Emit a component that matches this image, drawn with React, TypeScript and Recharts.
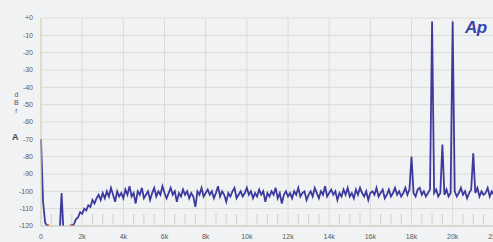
import React from "react"
import {
  LineChart,
  Line,
  XAxis,
  YAxis,
  CartesianGrid,
  ReferenceLine,
} from "recharts"

// FFT spectrum, 100 Hz bins from 0 Hz, level in dBrA
const levels = [
  -70, -106, -118, -120, -121, -124, -125, -126, -126, -125,
  -101, -125, -126, -124, -121, -120, -119, -116, -115, -112,
  -113, -110, -111, -108, -109, -105, -107, -104, -102, -105,
  -101,
  -104, -100, -103, -98, -102, -106, -100, -103, -101, -104,
  -99, -102, -97, -103, -101, -107, -100, -102, -98, -104,
  -102, -100, -105, -101, -98, -103, -100, -102, -97, -101,
  -104, -101, -98, -102, -100, -106, -101, -103, -99, -102,
  -100, -104, -101, -103, -109, -100, -102, -98, -103, -101,
  -99, -102, -100, -104, -101, -97, -103, -100, -102, -106,
  -101, -103, -100, -98, -104, -102, -100, -103, -101, -98,
  -102, -100, -104, -101, -103, -99, -102, -100, -106, -101,
  -103, -100, -102, -98, -104, -101, -107, -102, -100, -103,
  -101, -104, -100, -102, -98, -103, -101, -100, -105, -102,
  -100, -103, -98, -101, -104, -100, -102, -97, -103, -101,
  -99, -102, -100, -105, -101, -103, -99, -102, -98, -103,
  -101, -104, -99, -102, -98, -101, -103, -100, -105, -101,
  -100, -102, -98, -103, -101, -99, -104, -102, -99, -103,
  -101, -98, -102, -100, -103, -101, -98, -102, -99,
  -80,
  -101, -103, -99, -98, -102, -100, -103, -101, -99,
  -2,
  -101, -99, -103, -101,
  -73,
  -102, -99, -103, -101,
  -2,
  -100, -103, -101, -98, -102, -100, -104, -101, -99,
  -78,
  -101, -98, -103, -100, -102, -101, -98, -103, -100, -102, -101, -99,
]

// second channel, only visible where it sits on the bottom line
const orangeBins: Record<number, number> = { 3: -119.5, 4: -119.5, 14: -119.5, 15: -119.5 }

const xTicks = [0, 2000, 4000, 6000, 8000, 10000, 12000, 14000, 16000, 18000, 20000, 22000]
const yTicks = [-120, -110, -100, -90, -80, -70, -60, -50, -40, -30, -20, -10, 0]

const data = levels.map((v, i) => ({
  f: i * 100,
  a: v,
  b: orangeBins[i] ?? null,
}))

const minorTicks: number[] = []
for (let f = 500; f < 24000; f += 500) if (f % 2000 !== 0) minorTicks.push(f)

const tickStyle = { fontSize: 7, fill: "#5a5a5a", fontFamily: "Liberation Sans, Arial, sans-serif" }

export default function App() {
  return (
    <div
      style={{
        position: "absolute",
        left: 0,
        top: 0,
        width: 493,
        height: 242,
        overflow: "hidden",
        background: "#f1f2f4",
      }}
    >
      <LineChart width={540} height={242} data={data} margin={{ top: 18, right: 5, bottom: 0, left: 0 }}>
        <CartesianGrid stroke="#dcdcd2" strokeWidth={1} />
        <XAxis
          dataKey="f"
          type="number"
          domain={[0, 24000]}
          ticks={xTicks}
          tickFormatter={(v: number) => (v === 0 ? "0" : `${v / 1000}k`)}
          height={16}
          tick={tickStyle}
          tickLine={false}
          axisLine={{ stroke: "#c9c9c0" }}
          interval={0}
        />
        <YAxis
          type="number"
          domain={[-120, 0]}
          ticks={yTicks}
          allowDataOverflow
          width={41}
          tick={tickStyle}
          tickFormatter={(v: number) => (v === 0 ? "+0" : String(v))}
          tickLine={false}
          axisLine={{ stroke: "#d8d2b0" }}
          interval={0}
        />
        {minorTicks.map((f) => (
          <ReferenceLine
            key={f}
            segment={[
              { x: f, y: -113 },
              { x: f, y: -119 },
            ]}
            stroke="#d0d0c8"
            ifOverflow="hidden"
          />
        ))}
        <Line
          dataKey="b"
          stroke="#e8782a"
          strokeWidth={2.5}
          dot={false}
          isAnimationActive={false}
          connectNulls={false}
        />
        <Line
          dataKey="a"
          stroke="#3d3a9e"
          strokeWidth={1.8}
          dot={false}
          isAnimationActive={false}
          type="linear"
        />
      </LineChart>
      <div style={{ position: "absolute", left: 14, top: 91, fontSize: 7, lineHeight: "8px", color: "#555", fontFamily: "Liberation Sans, Arial, sans-serif", textAlign: "center" }}>
        d<br />B<br />r
      </div>
      <div style={{ position: "absolute", left: 12, top: 132, fontSize: 9, color: "#444", fontFamily: "Liberation Sans, Arial, sans-serif", fontWeight: "bold" }}>
        A
      </div>
      <div
        style={{
          position: "absolute",
          left: 465,
          top: 18,
          fontSize: 17,
          fontStyle: "italic",
          fontWeight: "bold",
          color: "#3a46a8",
          fontFamily: "Liberation Sans, Arial, sans-serif",
          letterSpacing: -0.5,
        }}
      >
        Ap
      </div>
    </div>
  )
}
